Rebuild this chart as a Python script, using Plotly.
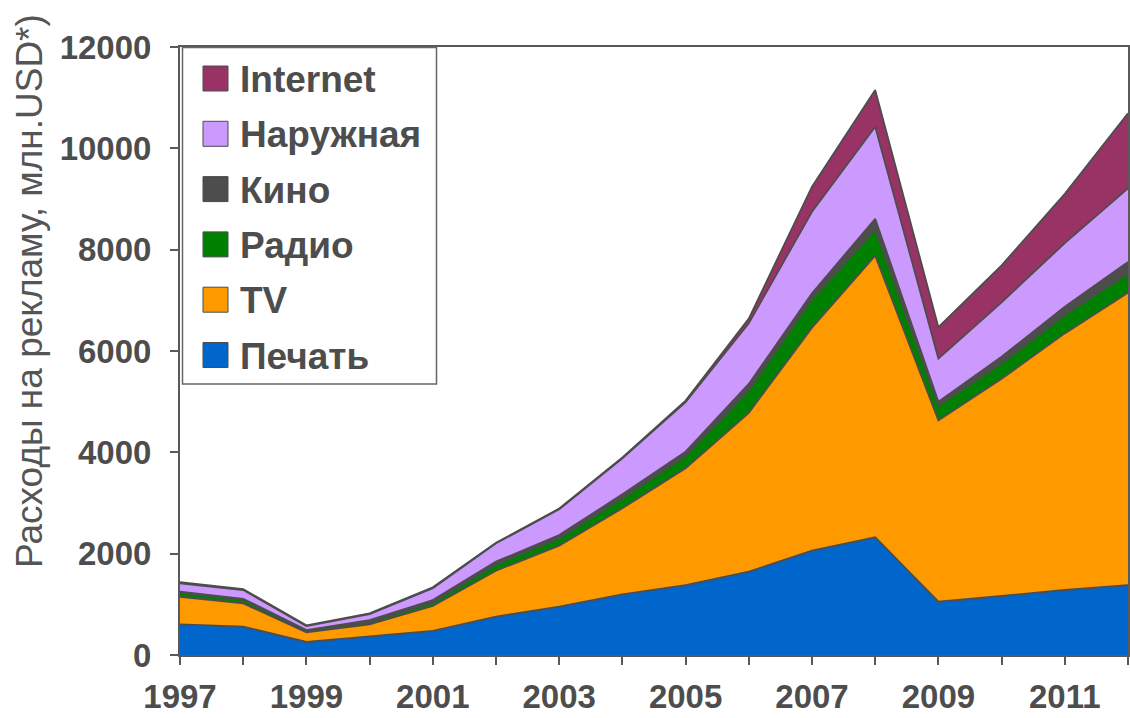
import plotly.graph_objects as go

years = list(range(1997, 2013))
year_labels = [str(y) if y % 2 == 1 else "" for y in years]

print_media = [605, 560, 257, 362, 474, 757, 954, 1197, 1381, 1644, 2058, 2322, 1052, 1164, 1283, 1381]
tv = [545, 460, 191, 243, 493, 907, 1204, 1698, 2303, 3136, 4402, 5558, 3578, 4286, 5065, 5769]
radio = [80, 65, 25, 40, 65, 125, 144, 197, 243, 440, 560, 515, 290, 307, 362, 383]
cinema = [20, 25, 20, 45, 53, 53, 66, 79, 86, 130, 118, 215, 80, 131, 165, 222]
outdoor = [164, 173, 79, 119, 231, 362, 507, 711, 977, 1196, 1611, 1817, 850, 1072, 1255, 1455]
internet = [26, 17, 13, 11, 19, 11, 15, 18, 30, 94, 494, 724, 620, 730, 970, 1480]

series_names = ["Печать", "TV", "Радио", "Кино", "Наружная", "Internet"]
series_values = [print_media, tv, radio, cinema, outdoor, internet]
series_colors = ["#0066cc", "#ff9900", "#008000", "#4d4d4d", "#cc99ff", "#993366"]

y_ticks = [0, 2000, 4000, 6000, 8000, 10000, 12000]
y_tick_labels = ["0", "2000", "4000", "6000", "8000", "10000", "12000"]
y_title = "Расходы на рекламу, млн.USD*)"

W, H = 1130, 718
# plot area in page pixels: x 180..1128, y 47..655
L, R, T, B = 180, W - 1128, 47, H - 655
PW, PH = W - L - R, H - T - B
TXT = "#4d4d4d"

def px_x(px):
    return (px - L) / PW

def px_y(py):
    return (H - B - py) / PH

fig = go.Figure()
for name, vals, col in zip(series_names, series_values, series_colors):
    fig.add_trace(go.Scatter(
        x=years, y=vals, name=name, mode="lines",
        stackgroup="one", fillcolor=col,
        line=dict(color="#4d4d4d", width=1.8),
        showlegend=False,
    ))

shapes = []
annotations = []
# legend box
shapes.append(dict(type="rect", xref="paper", yref="paper",
                   x0=px_x(182.5), x1=px_x(436.5), y0=px_y(384), y1=px_y(47.5),
                   line=dict(color="#666666", width=1.5), fillcolor="white", layer="above"))
order = list(range(len(series_names)))[::-1]
for i, idx in enumerate(order):
    cy = 78.5 + 55.3 * i
    shapes.append(dict(type="rect", xref="paper", yref="paper",
                       x0=px_x(203), x1=px_x(228), y0=px_y(cy + 12.5), y1=px_y(cy - 12.5),
                       line=dict(color="#4d4d4d", width=1), fillcolor=series_colors[idx], layer="above"))
    annotations.append(dict(xref="paper", yref="paper", x=px_x(238), y=px_y(cy + 1),
                            xanchor="left", yanchor="middle", showarrow=False,
                            text=series_names[idx],
                            font=dict(family="Liberation Sans, Arial", size=37, color=TXT, weight="bold")))

annotations.append(dict(xref="paper", yref="paper", x=px_x(29), y=px_y(291),
                        xanchor="center", yanchor="middle", showarrow=False, textangle=-90,
                        text=y_title,
                        font=dict(family="Liberation Sans, Arial", size=37, color="#555555")))

fig.update_layout(
    width=W, height=H,
    margin=dict(l=L, r=R, t=T, b=B),
    paper_bgcolor="white", plot_bgcolor="white",
    shapes=shapes, annotations=annotations,
    xaxis=dict(range=[1997, 2012], tickvals=years, ticktext=year_labels,
               ticks="outside", ticklen=8, tickwidth=1.5, tickcolor="#595959",
               showline=True, linecolor="#595959", linewidth=2, mirror=True,
               showgrid=False, zeroline=False, ticklabelstandoff=3, automargin=False,
               tickfont=dict(family="Liberation Sans, Arial", size=33, color=TXT, weight="bold")),
    yaxis=dict(range=[0, 12000], tickvals=y_ticks, ticktext=y_tick_labels,
               ticks="outside", ticklen=8, tickwidth=1.5, tickcolor="#595959",
               showline=True, linecolor="#595959", linewidth=2, mirror=True,
               showgrid=False, zeroline=False, ticklabelstandoff=12, automargin=False,
               tickfont=dict(family="Liberation Sans, Arial", size=33, color=TXT, weight="bold")),
)

fig.write_html("out.html",
               config={"displayModeBar": False},
               post_script="document.body.style.margin='0';document.body.style.overflow='hidden';")
